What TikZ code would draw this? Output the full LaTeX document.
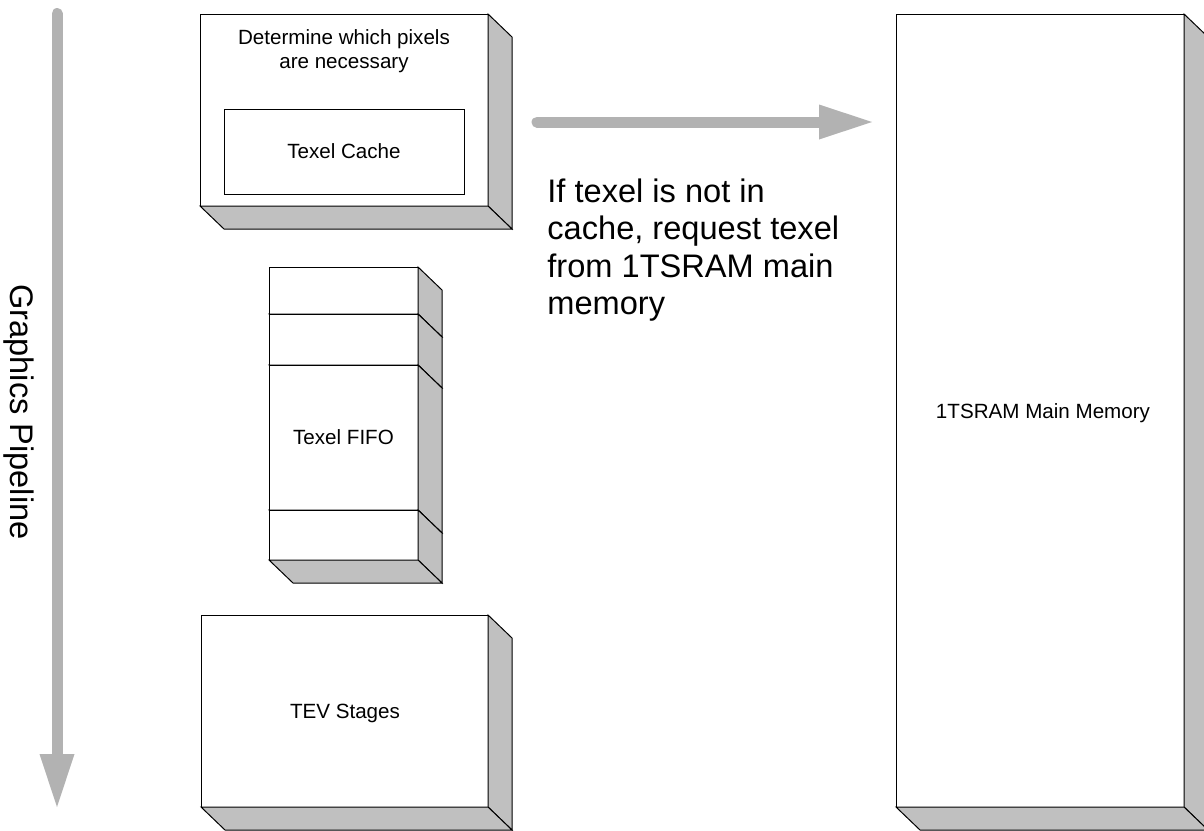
\documentclass[tikz,border=0pt]{standalone}
\usepackage{fontspec}
\setmainfont{Liberation Sans}
\usetikzlibrary{arrows.meta}

\definecolor{facegray}{RGB}{192,192,192}
\definecolor{arrowgray}{RGB}{178,178,178}

\tikzset{
  front/.style={draw=black, fill=white, line width=0.5pt, inner sep=0pt, outer sep=0pt, align=center},
  face/.style={draw=black, fill=facegray, line width=0.5pt, line join=miter},
  small/.style={font=\fontsize{10.3}{12}\selectfont},
  big/.style={font=\fontsize{16.3}{18.75}\selectfont},
  flow/.style={draw=arrowgray, fill=arrowgray, line width=5.5pt, line cap=round,
    -{Triangle[length=26.5pt,width=17.5pt,line width=0pt]}},
}

% side and bottom faces of a block whose front face is node #1
\newcommand\depthfaces[1]{%
  \filldraw[face] (#1.north east) -- ([shift={(24,23)}]#1.north east)
    -- ([shift={(24,23)}]#1.south east) -- (#1.south east) -- cycle;
  \filldraw[face] (#1.south west) -- (#1.south east)
    -- ([shift={(24,23)}]#1.south east) -- ([shift={(24,23)}]#1.south west) -- cycle;
}

\begin{document}
\begin{tikzpicture}[x=0.5pt, y=-0.5pt]
  \useasboundingbox (0,0) rectangle (1204,830);
  \clip (0,0) rectangle (1204,830);

  % pipeline direction
  \coordinate (pipetop) at (57,13.5);
  \coordinate (pipeend) at (57,807);
  \draw[flow] (pipetop) -- (pipeend);
  \node[big, rotate=-90, inner sep=0pt] (pipeline) at (19,412) {Graphics Pipeline};

  % texture stage with its cache
  \node[front, minimum width=144pt, minimum height=96pt] (stage) at (344,110) {};
  \depthfaces{stage}
  \node[small, align=center, anchor=north, inner sep=0pt] (decide) at (344,29)
    {Determine which pixels\\are necessary};
  \node[front, small, minimum width=120pt, minimum height=42.5pt] (cache) at (344,151.5) {Texel Cache};

  % texel FIFO, stacked slots
  \node[front, minimum width=74.5pt, minimum height=23.5pt] (fifoA) at (343.5,290.5) {};
  \depthfaces{fifoA}
  \node[front, minimum width=74.5pt, minimum height=25.5pt] (fifoB) at (343.5,339.5) {};
  \depthfaces{fifoB}
  \node[front, small, minimum width=74.5pt, minimum height=72.5pt] (fifoC) at (343.5,437.5) {Texel FIFO};
  \depthfaces{fifoC}
  \node[front, minimum width=74.5pt, minimum height=25pt] (fifoD) at (343.5,535) {};
  \depthfaces{fifoD}

  % TEV stages
  \node[front, minimum width=143.5pt, minimum height=96pt] (tev) at (344.5,711) {};
  \depthfaces{tev}
  \node[small, inner sep=0pt] (tevlabel) at (345,713) {TEV Stages};

  % main memory
  \node[front, minimum width=144pt, minimum height=396.5pt] (mem) at (1040,410.5) {};
  \depthfaces{mem}
  \node[small, inner sep=0pt] (memlabel) at (1043,413) {1TSRAM Main Memory};

  % texel request
  \coordinate (reqstart) at (537,122);
  \coordinate (reqend) at (872,122);
  \draw[flow] (reqstart) -- (reqend);
  \node[big, align=left, anchor=north west, inner sep=0pt] (miss) at (547,178)
    {If texel is not in\\cache, request texel\\from 1TSRAM main\\memory};
\end{tikzpicture}
\end{document}
